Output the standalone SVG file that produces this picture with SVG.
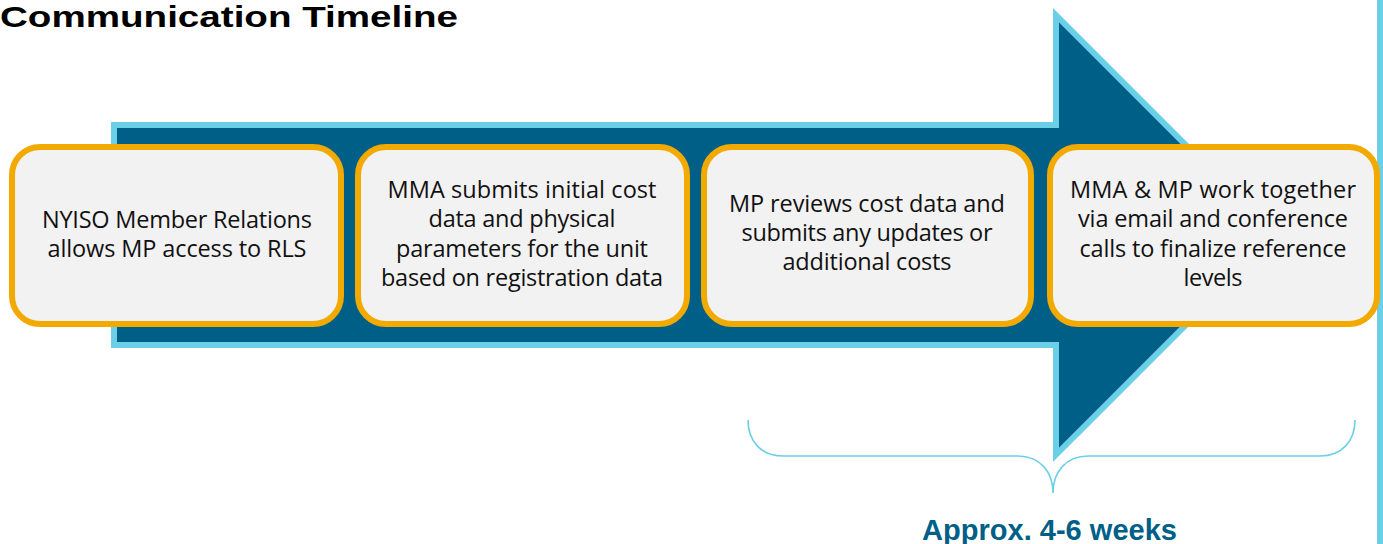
<svg xmlns="http://www.w3.org/2000/svg" width="1383" height="544" viewBox="0 0 1383 544">
  <style>
    .box { fill: #f2f2f2; stroke: #f2a900; stroke-width: 6; }
    .lbl { font-family: "Open Sans", "Liberation Sans", sans-serif; font-size: 23.5px; fill: #111111; text-anchor: middle; }
    .arrow { fill: #005f87; stroke: #6ccfe8; stroke-width: 6; stroke-linejoin: miter; stroke-miterlimit: 10; }
    .brace { fill: none; stroke: #6ccfe8; stroke-width: 1.6; }
    .title { font-family: "Liberation Sans", sans-serif; font-weight: bold; font-size: 30px; fill: #000000; }
    .dur { font-family: "Liberation Sans", sans-serif; font-weight: bold; font-size: 29.5px; fill: #005f87; text-anchor: middle; }
  </style>

  <rect x="0" y="0" width="1383" height="544" fill="#ffffff"/>

  <text id="title" class="title" x="0" y="27" textLength="458" lengthAdjust="spacingAndGlyphs">Communication Timeline</text>

  <g id="timeline-arrow">
    <polygon class="arrow" points="114,125 1056,125 1056,15.2 1275.8,235 1056,454.8 1056,345 114,345"/>
  </g>

  <rect id="right-bar" x="1377" y="0" width="6" height="544" fill="#6ccfe8"/>

  <g id="node1">
    <rect class="box" x="12" y="147" width="329" height="177" rx="28" ry="28"/>
    <text class="lbl" x="177" y="228" textLength="270" lengthAdjust="spacing">NYISO Member Relations</text>
    <text class="lbl" x="177" y="257" textLength="259" lengthAdjust="spacing">allows MP access to RLS</text>
  </g>

  <g id="node2">
    <rect class="box" x="358" y="147" width="329" height="177" rx="28" ry="28"/>
    <text class="lbl" x="522" y="198" textLength="269" lengthAdjust="spacing">MMA submits initial cost</text>
    <text class="lbl" x="522" y="227" textLength="187" lengthAdjust="spacing">data and physical</text>
    <text class="lbl" x="522" y="257" textLength="252" lengthAdjust="spacing">parameters for the unit</text>
    <text class="lbl" x="522" y="286" textLength="282" lengthAdjust="spacing">based on registration data</text>
  </g>

  <g id="node3">
    <rect class="box" x="704" y="147" width="327" height="177" rx="28" ry="28"/>
    <text class="lbl" x="867" y="212" textLength="276" lengthAdjust="spacing">MP reviews cost data and</text>
    <text class="lbl" x="867" y="241" textLength="251" lengthAdjust="spacing">submits any updates or</text>
    <text class="lbl" x="867" y="270" textLength="169" lengthAdjust="spacing">additional costs</text>
  </g>

  <g id="node4">
    <rect class="box" x="1050" y="147" width="327" height="177" rx="28" ry="28"/>
    <text class="lbl" x="1213" y="198" textLength="286" lengthAdjust="spacing">MMA &amp; MP work together</text>
    <text class="lbl" x="1213" y="227" textLength="270" lengthAdjust="spacing">via email and conference</text>
    <text class="lbl" x="1213" y="257" textLength="267" lengthAdjust="spacing">calls to finalize reference</text>
    <text class="lbl" x="1213" y="286" textLength="59" lengthAdjust="spacing">levels</text>
  </g>

  <g id="connectors">
    <path class="brace" d="M748,420 C748,441 761,456 783,456 L1018,456 C1040,456 1053,472 1053,493 C1053,472 1066,456 1088,456 L1320,456 C1342,456 1355,441 1355,420"/>
  </g>

  <text id="duration" class="dur" x="1049.5" y="540" textLength="255" lengthAdjust="spacingAndGlyphs">Approx. 4-6 weeks</text>
</svg>
